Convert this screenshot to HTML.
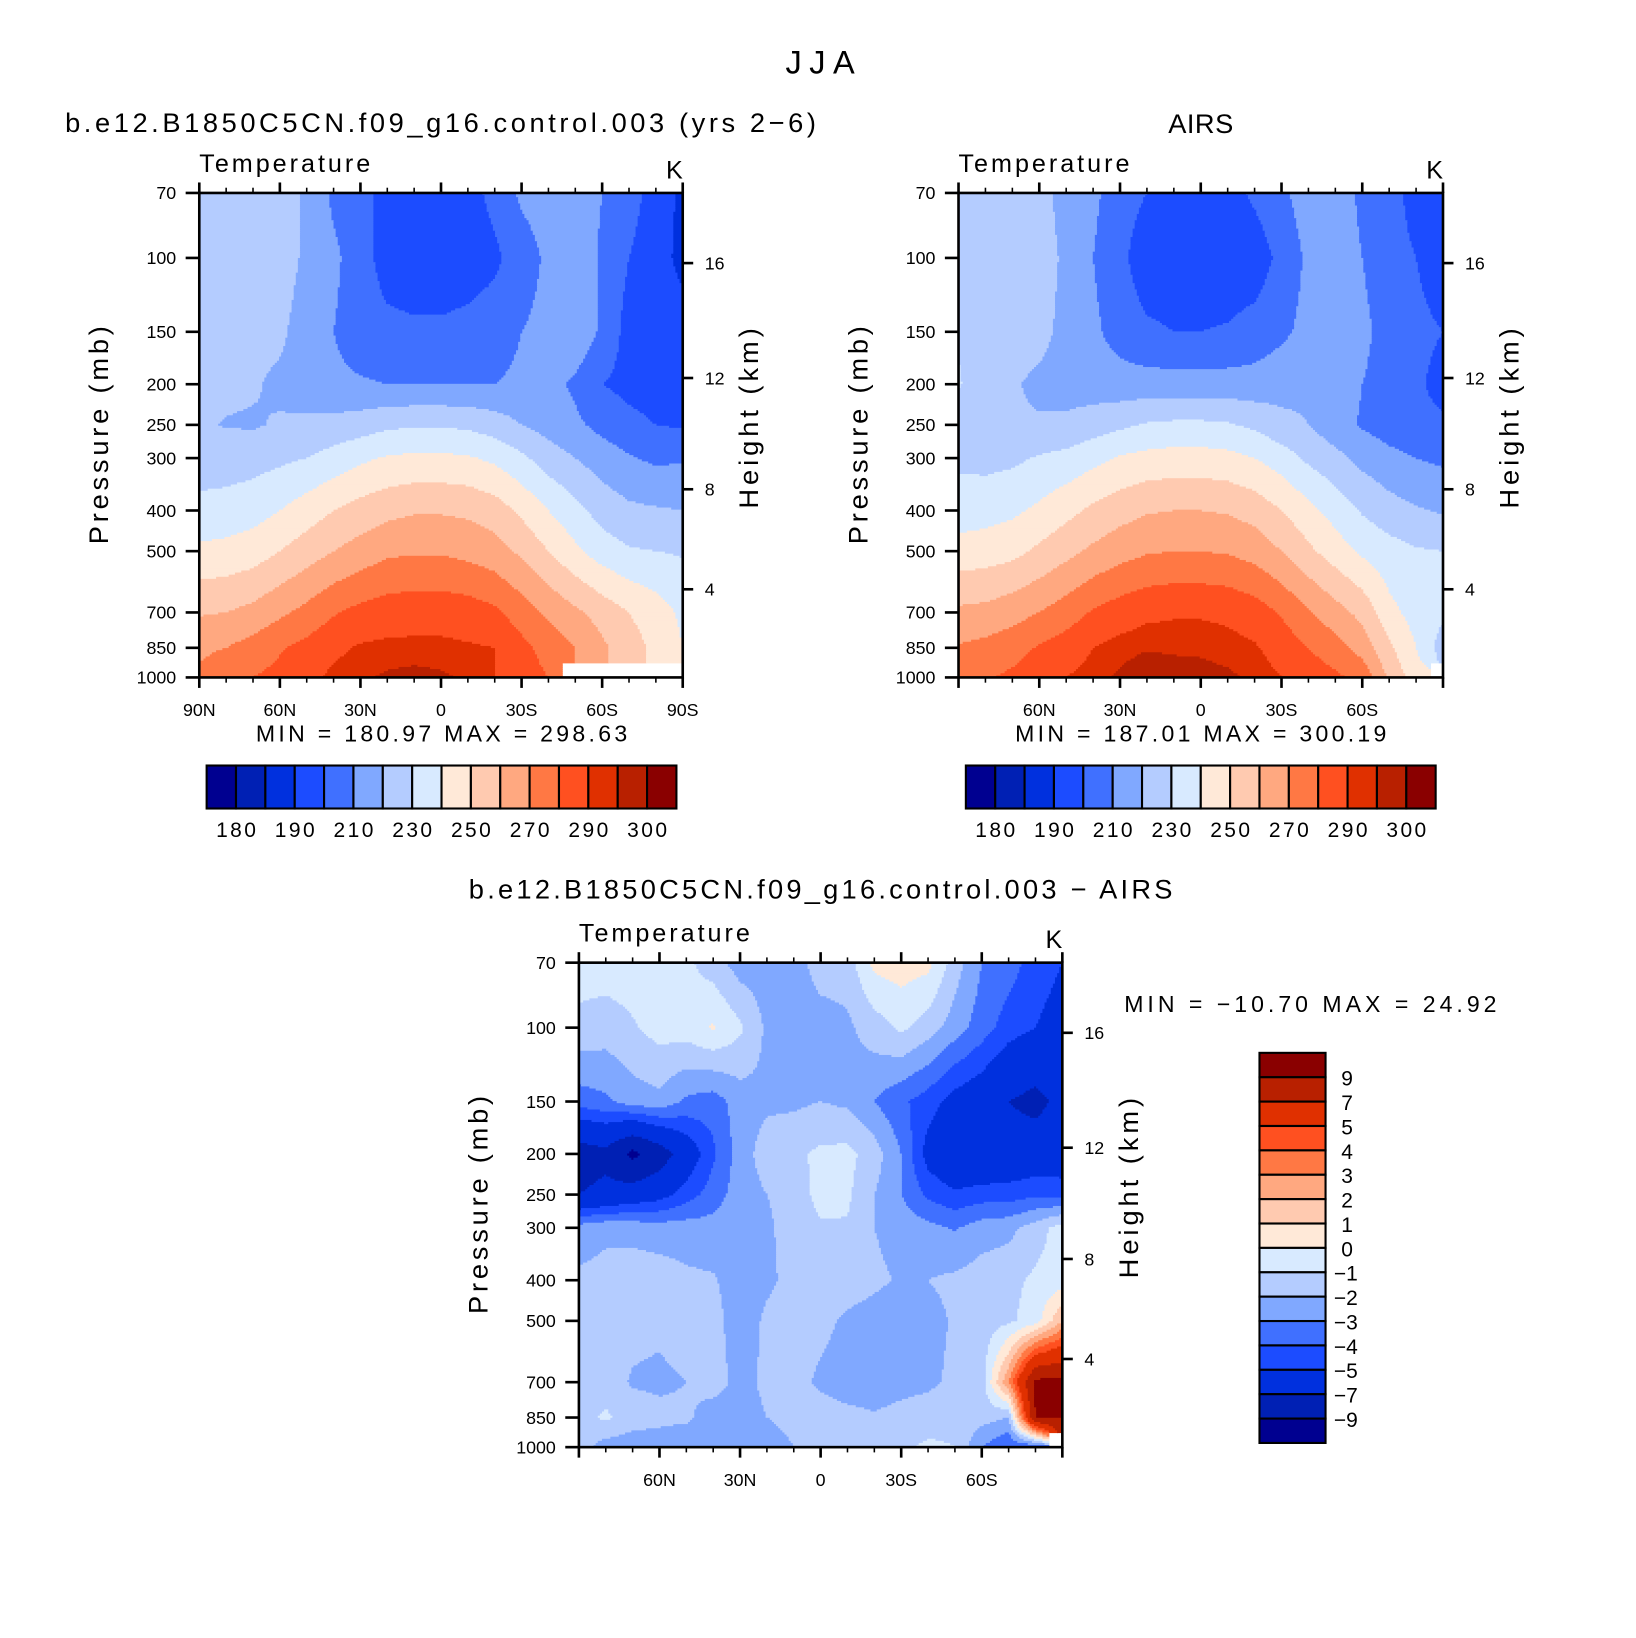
<!DOCTYPE html>
<html><head><meta charset="utf-8">
<style>
html,body{margin:0;padding:0;background:#fff;}
svg{display:block;}
text{font-family:"Liberation Sans",sans-serif;fill:#000;}
</style></head>
<body>
<svg id="fig" width="1636" height="1638" viewBox="0 0 1560 1562" xmlns="http://www.w3.org/2000/svg">
<rect x="0" y="0" width="1560" height="1562" fill="#fff"/>
<text x="782" y="70" font-size="31" text-anchor="middle" textLength="66">JJA</text>
</svg>
<script>
// ---------- DATA ----------
const lats = [90,80,70,60,50,40,30,20,10,0,-10,-20,-30,-40,-50,-60,-70,-80,-90];
const levels = [70,100,150,200,250,300,400,500,700,850,1000];
const tempBounds = [180,185,190,200,210,220,230,240,250,260,270,280,290,295,300];
const tempTickLabels = ["180","190","210","230","250","270","290","300"];
const diffBounds = [-9,-7,-5,-4,-3,-2,-1,0,1,2,3,4,5,7,9];
const diffTickLabels = ["9","7","5","4","3","2","1","0","\u22121","\u22122","\u22123","\u22124","\u22125","\u22127","\u22129"];
const palette = ["#000090","#0020b4","#0030de","#1c4cff","#4070ff","#80a8ff","#b4ccff","#d8eaff","#ffe9d8","#ffcab0","#ffa880","#ff7844","#ff5020","#e03000","#b82000","#8a0000"];
const N = NaN;
const modelT = [
 [225,225,225,225,218,208,203,197,195,195,196,203,212,215,218,210,205,195,188],
 [225,225,225,225,218,212,205,195,193,193,195,198,205,212,218,208,200,193,188],
 [224,224,223,222,215,210,205,203,202,202,203,205,210,213,218,208,196,194,193],
 [222,222,221,218,215,212,211,210,210,210,210,210,212,214,208,200,197,195,195],
 [221,219.5,219,221,222,223,225,228,229,229,228,225,220,216,212,207,203,200,199],
 [225,225,226,228,230,234,238,241,242,242,241,238,232,225,220,215,211,208,209],
 [233,234,236,240,245,250,254,257,259,259,258,255,248,240,233,226,222,221,220],
 [242,243,245,250,255,260,264,268,269,269,267,264,258,250,242,235,231,230,229],
 [259,260,263,268,273,279,283,285,286,286,285,282,275,268,262,256,250,245,238],
 [268,270,274,279,283,288,291,292,292,292,291,290,283,276,270,262,254,248,240],
 [272,277,280,283,287,292,294,296,297,296,294,290,285,280,N,N,N,N,N]
];
const airsT = [
 [225,225,225,225,215,212,205,200,195,195,196,202,208,215,218,207,202,198,192],
 [226,225,225,225,218,210,203,193,193,193,193,194,203,212,218,210,202,200,193],
 [229,224,224,223,217,212,206,202,200,200,201,204,208,213,218,213,205,203,200],
 [231,223,221,218,216,215,214,214,214,214,214,214,216,218,215,210,205,202,196],
 [225,222,221,221,222,225,228,231,232,232,231,228,223,220,214,209,205,203,202],
 [228,227,228,231,233,237,241,243,244,244,243,240,235,228,223,217,213,210,208],
 [235,236,238,242,247,252,256,259,260,260,259,256,250,243,236,229,224,221,219],
 [244,245,247,252,257,262,266,269,270,270,269,266,260,252,245,238,234,231,230],
 [262,263,266,270,275,281,285,288,289,289,288,285,279,271,264,257,243,236,232],
 [271,273,276,281,285,290,293,294.5,294,294,293,291,286,280,274,266,252,240,225],
 [275,279,282,286,290,293,296,299,298,297,296,294,290,286,282,277,258,245,N]
];
const diffT = [
 [-0.5,-0.5,-0.5,-0.5,-0.8,-1.5,-2.5,-2.5,-2.5,-1.5,-1.5,0.3,0.5,0.3,-1.5,-3,-3.5,-4.5,-5],
 [-1.3,-1.5,-1.1,-0.6,-0.5,0.1,-0.8,-2.2,-2.5,-2.5,-2.2,-1.5,-0.8,-1.5,-2.5,-3.5,-4.5,-5,-5.5],
 [-3.5,-3.2,-2.5,-2.3,-3.2,-3.5,-2.5,-2.2,-2.2,-2,-2.2,-3,-3.8,-4.5,-5.5,-6,-7,-7.5,-6.5],
 [-8,-7.5,-9.5,-8,-6,-4.2,-2.5,-1.5,-1.2,-0.8,-0.7,-1.5,-3,-5.5,-6.5,-6.5,-6.2,-6,-6],
 [-7,-6.5,-6,-5.5,-4.5,-3.5,-2.5,-2,-1.5,-0.7,-0.8,-2,-3,-4.2,-4.8,-4.5,-4.5,-4.2,-4.3],
 [-2.5,-2.2,-2.3,-2.5,-2.5,-2.6,-2.3,-2.2,-1.5,-1.1,-1.1,-2,-2.4,-2.7,-3.1,-2.5,-2.3,-1.5,-0.5],
 [-1.8,-1.7,-1.5,-1.5,-1.8,-1.9,-2.5,-2.2,-1.7,-1.5,-1.5,-1.8,-2.1,-2,-1.8,-1.5,-1.3,-0.8,-0.5],
 [-1.5,-1.4,-1.7,-1.8,-1.5,-1.6,-2.6,-1.8,-1.5,-1.7,-2.2,-2.4,-2.7,-2.3,-1.9,-1.5,-1.2,-0.5,2],
 [-1.5,-1.6,-2.1,-2.2,-2,-1.6,-2.3,-1.8,-1.6,-2.2,-2.5,-2.5,-2.3,-2.2,-1.8,-1.5,3,9.5,9.5],
 [-1.5,-0.8,-1.5,-1.7,-1.8,-2.5,-2.4,-2,-1.7,-1.5,-1.7,-1.9,-1.7,-1.5,-1.3,-1.6,-2,9,9],
 [-1.5,-2.5,-2.6,-2.6,-2.8,-3,-2.9,-2.5,-2,-1.8,-1.8,-1.5,-1.2,-0.8,-1,-3,-4,-4,N]
];
const pressureTicks = [70,100,150,200,250,300,400,500,700,850,1000];
const heightTicks = [4,8,12,16];
const latMajor = [90,60,30,0,-30,-60,-90];
// ---------- DRAWING ----------
const NS="http://www.w3.org/2000/svg";
const svg=document.getElementById('fig');
function mk(tag,attrs,parent){const e=document.createElementNS(NS,tag);for(const k in attrs)e.setAttribute(k,attrs[k]);(parent||svg).appendChild(e);return e;}
function txt(x,y,s,size,anchor,parent,extra){const e=mk('text',Object.assign({x:x,y:y,'font-size':size,'text-anchor':anchor||'start'},extra||{}),parent);e.textContent=s;return e;}
function band(v,b){if(isNaN(v))return -1;let i=0;while(i<b.length&&v>=b[i])i++;return i;}
function latLabel(l){return l===0?"0":(Math.abs(l)+(l>0?"N":"S"));}
function stdPressure(hkm){const z=hkm*1000; return z<=11000?1013.25*Math.pow(1-2.25577e-5*z,5.2559):226.32*Math.exp(-(z-11000)/6341.6);}
function heightY(h,ax){return ax.yOf(stdPressure(h));}
function interp(grid,lat,p){
  const fi=Math.max(0,Math.min(18,(90-lat)/10)); const lp=Math.log(p);
  let j=0; while(j<levels.length-2 && Math.log(levels[j+1])<lp) j++;
  let fj=j+(lp-Math.log(levels[j]))/(Math.log(levels[j+1])-Math.log(levels[j]));
  fj=Math.max(0,Math.min(levels.length-1,fj));
  const i0=Math.min(Math.floor(fi),lats.length-2), j0=Math.min(Math.floor(fj),levels.length-2);
  const tx=fi-i0, ty=fj-j0;
  const ni=Math.round(fi), nj=Math.round(fj);
  if(isNaN(grid[nj][ni])) return NaN;
  let s=0,w=0;
  [[0,0,(1-tx)*(1-ty)],[1,0,tx*(1-ty)],[0,1,(1-tx)*ty],[1,1,tx*ty]].forEach(c=>{
    const v=grid[j0+c[1]][i0+c[0]]; if(!isNaN(v)&&c[2]>0){s+=v*c[2];w+=c[2];}});
  return w>0?s/w:NaN;
}
function panel(o){
  const g=mk('g',{},svg);
  
  
  const x0=o.x0,x1=o.x1,y0=o.y0,y1=o.y1;
  const ax={xOf:lat=>x0+(90-lat)/180*(x1-x0), yOf:p=>y0+Math.log(p/70)/Math.log(1000/70)*(y1-y0)};
  const fieldG=mk('g',{},g);
  
  
  const step=2;
  for(let y=y0;y<y1;y+=step){
    const p=70*Math.pow(1000/70,Math.min(1,(y+step/2-y0)/(y1-y0)));
    const hgt=Math.min(step,y1-y)+0.6;
    let runStart=x0,runB=null;
    let x=x0;
    while(true){
      const done = x>=x1;
      let b=null;
      if(!done){const lat=90-(x+step/2-x0)/(x1-x0)*180; b=band(interp(o.grid,lat,p),o.bounds);}
      if(done||b!==runB){
        if(runB!==null&&runB>=0){
          const r=mk('rect',{x:runStart,y:y,width:Math.min(x,x1)-runStart+(done?0:0.6),height:hgt,fill:palette[runB]},fieldG);
          
          
        }
        runStart=x;runB=b;
      }
      if(done)break;
      x+=step;
    }
  }
  const fr=mk('rect',{x:x0,y:y0,width:x1-x0,height:y1-y0,fill:'none',stroke:'#000','stroke-width':2.5},g);
  
  
  for(let l=90;l>=-90;l-=10){
    const x=ax.xOf(l); const maj=latMajor.includes(l); const len=maj?10:5;
    mk('line',{x1:x,x2:x,y1:y0,y2:y0-len,stroke:'#000','stroke-width':maj?2.5:1.5},g);
    mk('line',{x1:x,x2:x,y1:y1,y2:y1+len,stroke:'#000','stroke-width':maj?2.5:1.5},g);
    if(maj && o.latLabels.includes(l)){
      const t=txt(x,y1+37,latLabel(l),17,'middle',g);
      
      
    }
  }
  pressureTicks.forEach(p=>{
    const y=ax.yOf(p);
    mk('line',{x1:x0-13,x2:x0,y1:y,y2:y,stroke:'#000','stroke-width':2.5},g);
    const t=txt(x0-22,y+6,String(p),17,'end',g);
    
    
  });
  heightTicks.forEach(h=>{
    const y=heightY(h,ax);
    mk('line',{x1:x1,x2:x1+10,y1:y,y2:y,stroke:'#000','stroke-width':2.5},g);
    const t=txt(x1+21,y+6,String(h),17,'start',g);
    
    
  });
  const cy=(y0+y1)/2-8;
  const yt=txt(x0-95,cy,'Pressure  (mb)',26,'middle',g,{transform:`rotate(-90 ${x0-95+8} ${cy})`,textLength:208});
  
  
  const ht=txt(x1+80,cy,'Height  (km)',26,'middle',g,{transform:`rotate(-90 ${x1+80-8} ${cy})`,textLength:172});
  
  
  const vt=txt(x0,y0-20,'Temperature',24,'start',g,{textLength:163});
  
  
  const ut=txt(x1,y0-14,'K',24,'end',g);
  
  
  return ax;
}
function hbar(x,y,w,h,bounds,labels,name){
  const g=mk('g',{},svg);
  
  
  const n=palette.length, bw=w/n;
  palette.forEach((c,i)=>{
    const r=mk('rect',{x:x+i*bw,y:y,width:bw,height:h,fill:c,stroke:'#000','stroke-width':2},g);
    
    
  });
  labels.forEach((s,k)=>{
    const t=txt(x+(1+2*k)*bw,y+h+27,s,20,'middle',g,{textLength:38});
    
    
  });
}
function vbar(x,y,w,h,labels,name){
  const g=mk('g',{},svg);
  
  
  const n=palette.length, bh=h/n;
  for(let i=0;i<n;i++){
    const r=mk('rect',{x:x,y:y+i*bh,width:w,height:bh,fill:palette[n-1-i],stroke:'#000','stroke-width':2},g);
    
    
  }
  labels.forEach((s,k)=>{
    const neg = s[0]==='\u2212';
    const t=txt(x+w+(neg?8:15),y+(k+1)*bh+8,s,20,'start',g);
    
    
  });
}
// Panel 1
let t=txt(62,126,'b.e12.B1850C5CN.f09_g16.control.003  (yrs  2\u22126)',26,'start',svg,{textLength:716});


panel({name:'model-panel',x0:190,x1:651,y0:184,y1:646,grid:modelT,bounds:tempBounds,latLabels:[90,60,30,0,-30,-60,-90]});
t=txt(244,707,'MIN  =  180.97    MAX  =  298.63',22,'start',svg,{textLength:354});


hbar(197,730,448,41,tempBounds,tempTickLabels,'model-colorbar');
// Panel 2
t=txt(1145,127,'AIRS',26,'middle',svg,{textLength:62});


panel({name:'airs-panel',x0:914,x1:1376,y0:184,y1:646,grid:airsT,bounds:tempBounds,latLabels:[60,30,0,-30,-60]});
t=txt(968,707,'MIN  =  187.01    MAX  =  300.19',22,'start',svg,{textLength:354});


hbar(921,730,448,41,tempBounds,tempTickLabels,'airs-colorbar');
// Panel 3
t=txt(447,857,'b.e12.B1850C5CN.f09_g16.control.003  \u2212  AIRS',26,'start',svg,{textLength:671});


panel({name:'diff-panel',x0:552,x1:1013,y0:918,y1:1380,grid:diffT,bounds:diffBounds,latLabels:[60,30,0,-30,-60]});
t=txt(1072,965,'MIN  =  \u221210.70    MAX  =    24.92',22,'start',svg,{textLength:355});


vbar(1201,1004,63,372,diffTickLabels,'diff-colorbar');
</script>
</body></html>
